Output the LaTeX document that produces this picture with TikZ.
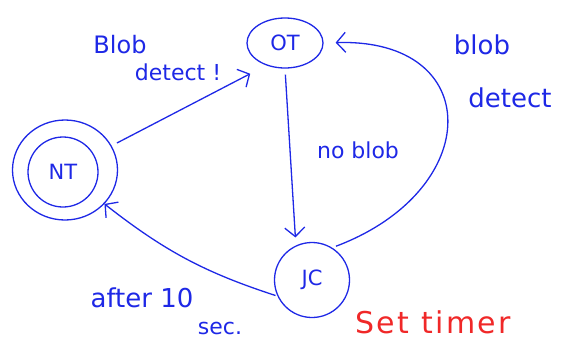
\documentclass[tikz,border=0pt]{standalone}
\usepackage{fontspec}
\setmainfont{DejaVu Sans}
\usetikzlibrary{shapes.geometric,arrows.meta}
\definecolor{pen}{RGB}{30,40,230}
\definecolor{redpen}{RGB}{240,40,40}
\tikzset{
  state/.style={draw=pen, line width=1.3pt, ellipse, inner sep=0pt, text=pen,
    font=\fontsize{21}{21}\selectfont},
  edge/.style={draw=pen, line width=1.3pt, -{Straight Barb[length=9pt,width=20pt]}},
  lbl/.style={text=pen, inner sep=0pt, font=\fontsize{24}{24}\selectfont},
}
\begin{document}
\begin{tikzpicture}[x=1pt,y=-1pt]
\useasboundingbox (0,0) rectangle (567,346);
\node[state, minimum width=105, minimum height=100] (NTo) at (65,170) {};
\node[state, minimum width=70, minimum height=70] (NT) at (63,172) {NT};
\node[state, minimum width=76, minimum height=50] (OT) at (285,43) {OT};
\node[state, minimum width=75, minimum height=75] (JC) at (312,280) {JC};

\draw[edge, shorten <=6pt, shorten >=18pt] (NTo) -- (OT.230);
\draw[edge, shorten <=6pt, shorten >=8pt] (OT.south) -- (JC.115);
\draw[edge, shorten <=4pt, shorten >=12pt] (JC.58) .. controls (485,190) and (485,38) .. (OT.east);
\draw[edge, shorten <=2pt] (JC.205) to[bend left=10] (NTo);

\node[lbl] (l1) at (120,45) {Blob};
\node[lbl, font=\fontsize{22}{22}\selectfont] (l2) at (178,72) {detect !};
\node[lbl, font=\fontsize{22}{22}\selectfont] (l3) at (358,150) {no blob};
\node[lbl, font=\fontsize{26}{26}\selectfont] (l4) at (482,45) {blob};
\node[lbl, font=\fontsize{26}{26}\selectfont] (l5) at (510,98) {detect};
\node[lbl, font=\fontsize{26}{26}\selectfont] (l6) at (142,298) {after 10};
\node[lbl, font=\fontsize{22}{22}\selectfont] (l7) at (220,328) {sec.};
\node[lbl, text=redpen, font=\fontsize{30}{30}\selectfont\addfontfeature{LetterSpace=8}] (l8) at (433,322) {Set timer};
\end{tikzpicture}
\end{document}
